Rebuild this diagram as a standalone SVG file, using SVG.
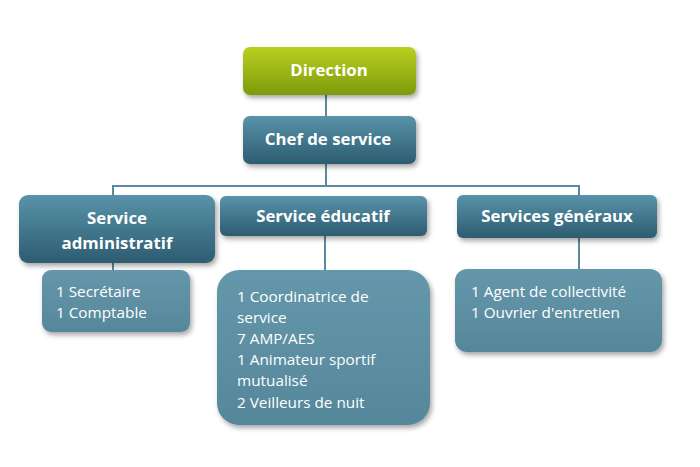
<svg xmlns="http://www.w3.org/2000/svg" width="700" height="467" viewBox="0 0 700 467">
<defs>
<linearGradient id="gGreen" x1="0" y1="0" x2="0" y2="1"><stop offset="0" stop-color="#b9d020"/><stop offset="1" stop-color="#7e9a0c"/></linearGradient>
<linearGradient id="gBlue" x1="0" y1="0" x2="0" y2="1"><stop offset="0" stop-color="#5993a9"/><stop offset="1" stop-color="#2c5c70"/></linearGradient>
<linearGradient id="gLight" x1="0" y1="0" x2="0" y2="1"><stop offset="0" stop-color="#6597ab"/><stop offset="1" stop-color="#56879b"/></linearGradient>
<filter id="sh" x="-10%" y="-10%" width="125%" height="130%"><feDropShadow dx="2" dy="3" stdDeviation="2.5" flood-color="#000" flood-opacity="0.35"/></filter>
</defs>
<style>
.hdr{font-family:"Open Sans","Liberation Sans",sans-serif;font-weight:bold;font-size:16.8px;fill:#fff;text-anchor:middle}
.det{font-family:"Open Sans","Liberation Sans",sans-serif;font-size:15.3px;fill:#fff}
.con{stroke:#5a8a9e;stroke-width:2;fill:none}
</style>
<rect width="700" height="467" fill="#fff"/>
<g id="connectors">
<path class="con" d="M326 95V116"/>
<path class="con" d="M326 164V186M113 196V186H579V196"/>
<path class="con" d="M113 263V271"/>
<path class="con" d="M325 236V271"/>
<path class="con" d="M579 238V270"/>
</g>
<g id="direction"><rect x="243" y="47" width="173" height="48" rx="7" fill="url(#gGreen)" filter="url(#sh)"/><text class="hdr" x="329" y="76">Direction</text></g>
<g id="chef"><rect x="243" y="116" width="173" height="48" rx="7" fill="url(#gBlue)" filter="url(#sh)"/><text class="hdr" x="328" y="145">Chef de service</text></g>
<g id="admin"><rect x="19" y="195" width="196" height="68" rx="9" fill="url(#gBlue)" filter="url(#sh)"/><text class="hdr" x="117" y="224">Service</text><text class="hdr" x="117" y="249">administratif</text></g>
<g id="educatif"><rect x="220" y="196" width="207" height="40" rx="6" fill="url(#gBlue)" filter="url(#sh)"/><text class="hdr" x="323" y="222">Service éducatif</text></g>
<g id="generaux"><rect x="457" y="195" width="200" height="43" rx="6" fill="url(#gBlue)" filter="url(#sh)"/><text class="hdr" x="557" y="222">Services généraux</text></g>
<g id="admin-detail"><rect x="42" y="270" width="148" height="62" rx="9" fill="url(#gLight)" filter="url(#sh)"/><text class="det" x="56" y="297">1 Secrétaire</text><text class="det" x="56" y="318">1 Comptable</text></g>
<g id="educatif-detail"><rect x="217" y="270" width="213" height="155" rx="22" fill="url(#gLight)" filter="url(#sh)"/>
<text class="det" x="237" y="302">1 Coordinatrice de</text><text class="det" x="237" y="323">service</text><text class="det" x="237" y="344">7 AMP/AES</text><text class="det" x="237" y="365">1 Animateur sportif</text><text class="det" x="237" y="386">mutualisé</text><text class="det" x="237" y="408">2 Veilleurs de nuit</text></g>
<g id="generaux-detail"><rect x="455" y="269" width="207" height="83" rx="12" fill="url(#gLight)" filter="url(#sh)"/><text class="det" x="471" y="297">1 Agent de collectivité</text><text class="det" x="471" y="318">1 Ouvrier d'entretien</text></g>
</svg>
